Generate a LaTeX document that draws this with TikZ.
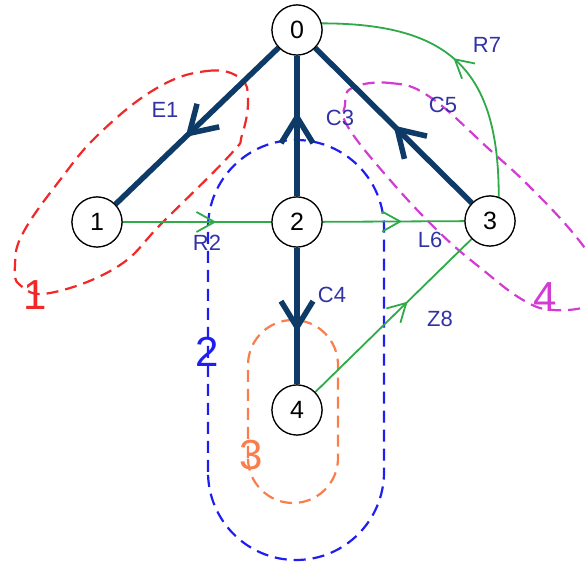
\documentclass[tikz,border=0pt]{standalone}
\usepackage{fontspec}
\setmainfont{Liberation Sans}
\usetikzlibrary{arrows.meta,decorations.markings}
\definecolor{navy}{RGB}{14,58,104}
\definecolor{grn}{RGB}{46,170,72}
\definecolor{lblc}{RGB}{50,50,165}
\definecolor{gred}{RGB}{240,40,40}
\definecolor{gblue}{RGB}{30,30,240}
\definecolor{gcoral}{RGB}{250,125,75}
\definecolor{gmag}{RGB}{210,60,210}
\begin{document}
\begin{tikzpicture}[x=1pt,y=1pt,
  vtx/.style={circle,draw=black,line width=1.2pt,fill=white,minimum size=50pt,inner sep=0pt,font=\fontsize{25}{28}\selectfont},
  heavy/.style={draw=navy,line width=5.5pt,decoration={markings,mark=at position #1 with {\arrow{Straight Barb[length=26pt,width=32pt]}}},postaction={decorate}},
  light/.style={draw=grn,line width=1.8pt,decoration={markings,mark=at position #1 with {\arrow{Straight Barb[length=18pt,width=20pt]}}},postaction={decorate}},
  elbl/.style={text=lblc,font=\fontsize{22}{24}\selectfont,inner sep=0pt},
  grp/.style={dash pattern=on 12pt off 7pt,line width=2.2pt},
  glbl/.style={font=\fontsize{42}{44}\selectfont,inner sep=0pt}]
\useasboundingbox (0,0) rectangle (586,564);
\clip (0,0) rectangle (586,564);
% groups
\draw[grp,draw=gred] plot[smooth cycle,tension=0.7] coordinates {(157,476) (207,493) (240,486) (248,464) (242,429) (230,409) (163,342) (117,297) (50,271) (20,279) (15,299) (23,331) (60,384) (100,431)};
\draw[grp,draw=gblue,rounded corners=88pt] (208,4) rectangle (384,424);
\draw[grp,draw=gcoral,rounded corners=45pt] (248,61) rectangle (338,244);
\draw[grp,draw=gmag] plot[smooth cycle,tension=0.7] coordinates {(352,476) (390,481) (430,467) (490,414) (530,377) (573,331) (598,295) (605,270) (590,258) (553,254) (523,264) (483,294) (440,331) (390,384) (348,437) (345,459)};
% nodes
\node[vtx] (n0) at (297,534) {0};
\node[vtx] (n1) at (97,342) {1};
\node[vtx] (n2) at (297,342) {2};
\node[vtx] (n3) at (490,343) {3};
\node[vtx] (n4) at (297,154) {4};
% edges
\draw[heavy=0.57] (n0) -- (n1);
\draw[heavy=0.6] (n2) -- (n0);
\draw[heavy=0.5] (n3) -- (n0);
\draw[heavy=0.62] (n2) -- (n4);
\draw[light=0.63] (n1) -- (n2);
\draw[light=0.56] (n2) -- (n3);
\draw[light=0.59] (n4) -- (n3);
\draw[light=0.52] (n3.70) .. controls +(90:125) and +(0:130) .. (n0.15);
% redraw nodes on top
\node[vtx] at (n0) {0};
\node[vtx] at (n1) {1};
\node[vtx] at (n2) {2};
\node[vtx] at (n3) {3};
\node[vtx] at (n4) {4};
% edge labels
\node[elbl] (lE1) at (165,454) {E1};
\node[elbl] (lC3) at (340,446) {C3};
\node[elbl] (lC5) at (443,459) {C5};
\node[elbl] (lC4) at (332,269) {C4};
\node[elbl] (lR2) at (207,321) {R2};
\node[elbl] (lL6) at (430,324) {L6};
\node[elbl] (lZ8) at (440,245) {Z8};
\node[elbl] (lR7) at (487,519) {R7};
% group labels
\node[glbl,text=gred] (g1) at (35,269) {1};
\node[glbl,text=gblue] (g2) at (207,212) {2};
\node[glbl,text=gcoral] (g3) at (251,109) {3};
\node[glbl,text=gmag] (g4) at (545,267) {4};
\end{tikzpicture}
\end{document}
